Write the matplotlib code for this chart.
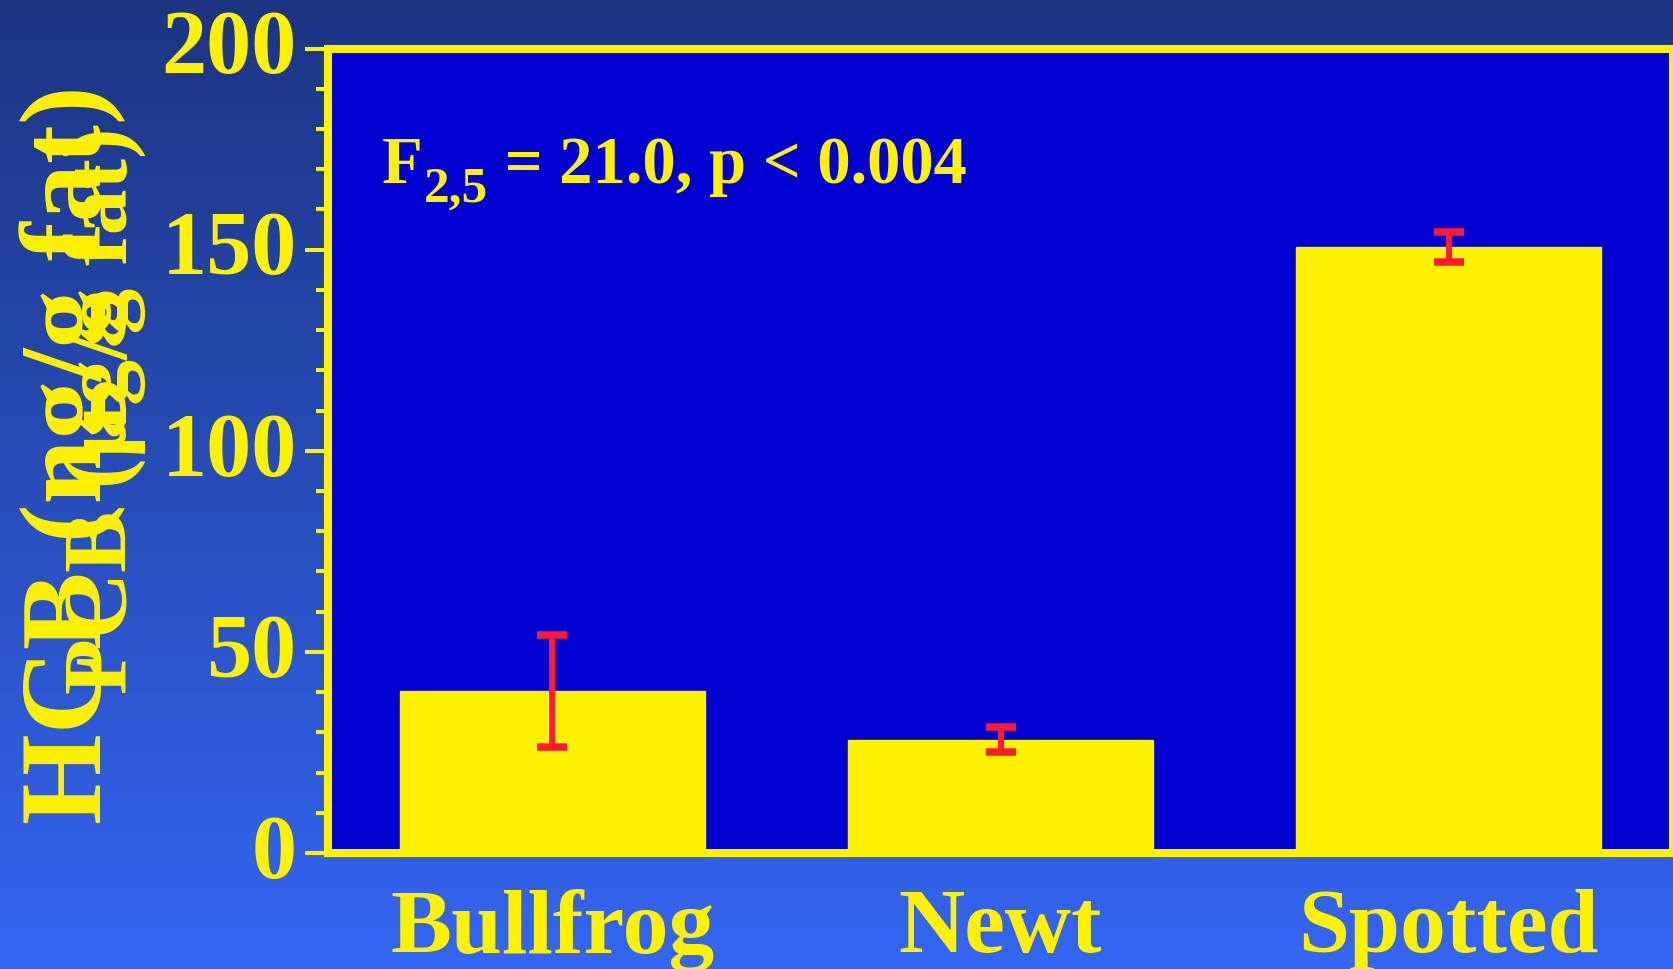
import numpy as np
import matplotlib
matplotlib.use("Agg")
import matplotlib.pyplot as plt
import matplotlib.transforms as mtransforms
from matplotlib.ticker import MultipleLocator

# Datos: concentración media por especie y su error estándar
species = ["Bullfrog", "Newt", "Spotted"]
means = [40.3, 28.2, 150.6]
errors = [14.0, 3.2, 3.7]
y_ticks = [0, 50, 100, 150, 200]
stat_main = "F"
stat_sub = "2,5"
stat_rest = " = 21.0, p < 0.004"

YELLOW = "#fff200"
RED = "#ff1a33"
PANEL = "#0000d0"

plt.rcParams["font.family"] = ["Liberation Serif", "DejaVu Serif"]
plt.rcParams["font.weight"] = "bold"

W, H = 1674, 970
fig = plt.figure(figsize=(W / 100, H / 100), dpi=100)

# Fondo degradado (azul oscuro arriba, azul claro abajo)
bg = fig.add_axes([0, 0, 1, 1], zorder=-10)
top = np.array([28, 53, 130]) / 255
bottom = np.array([52, 102, 242]) / 255
t = np.linspace(0, 1, 256)[:, None]
grad = top + (bottom - top) * t
bg.imshow(grad[:, None, :], aspect="auto", extent=[0, 1, 0, 1])
bg.set_axis_off()

left, right, top_px, bot_px = 328, 1673, 49.5, 854
ax = fig.add_axes([left / W, 1 - bot_px / H, (right - left) / W, (bot_px - top_px) / H])
ax.set_facecolor(PANEL)

x = np.arange(len(species))
ax.bar(x, means, width=0.68, color=YELLOW, edgecolor=YELLOW, linewidth=1, zorder=2)
eb = ax.errorbar(x, means, yerr=errors, fmt="none", ecolor=RED, elinewidth=4.3,
                 capsize=10.5, capthick=5.4, zorder=3)
for coll in eb[2]:
    coll.set_capstyle("round")
for cap in eb[1]:
    cap.set_solid_capstyle("round")

ax.set_xlim(-0.5, 2.5)
ax.set_ylim(0, 200)
ax.set_xticks(x)
ax.set_xticklabels(species)
ax.set_yticks(y_ticks)
ax.yaxis.set_minor_locator(MultipleLocator(10))

for s in ax.spines.values():
    s.set_color(YELLOW)
    s.set_linewidth(5.8)
    s.set_zorder(4)

ax.tick_params(axis="x", length=0, pad=25, labelsize=66, labelcolor=YELLOW)
ax.tick_params(axis="y", which="major", length=16.5, width=2.9, color=YELLOW,
               pad=6, labelsize=65, labelcolor=YELLOW)
ax.tick_params(axis="y", which="minor", length=8.6, width=2.9, color=YELLOW)
for tl in ax.yaxis.get_ticklines(minor=True) + ax.yaxis.get_ticklines():
    tl.set_solid_capstyle("round")

# subir un poco los números del eje Y
up = mtransforms.ScaledTranslation(0, 5.5 / 72, fig.dpi_scale_trans)
for lbl in ax.get_yticklabels():
    lbl.set_transform(lbl.get_transform() + up)

# Etiquetas del eje Y superpuestas
fig.text(101 / W, 1 - 455 / H, "HCB (ng/g fat)", rotation=90, rotation_mode="anchor",
         ha="center", va="baseline", fontsize=84, color=YELLOW, fontweight="bold")
fig.text(127 / W, 1 - 411 / H, "PCB (\u00b5g/g fat)", rotation=90, rotation_mode="anchor",
         ha="center", va="baseline", fontsize=66, color=YELLOW, fontweight="bold")

# Resultado del ANOVA: F con subíndice armado a mano
fig.canvas.draw()
renderer = fig.canvas.get_renderer()
x0, base = 382, H - 183
t1 = fig.text(x0 / W, base / H, stat_main, ha="left", va="baseline",
              fontsize=48, color=YELLOW, fontweight="bold")
x1 = t1.get_window_extent(renderer).x1 + 1
t2 = fig.text(x1 / W, (base - 19) / H, stat_sub, ha="left", va="baseline",
              fontsize=37, color=YELLOW, fontweight="bold")
x2 = t2.get_window_extent(renderer).x1
fig.text(x2 / W, base / H, stat_rest, ha="left", va="baseline",
         fontsize=48, color=YELLOW, fontweight="bold")

fig.savefig("out.png", dpi=100)
